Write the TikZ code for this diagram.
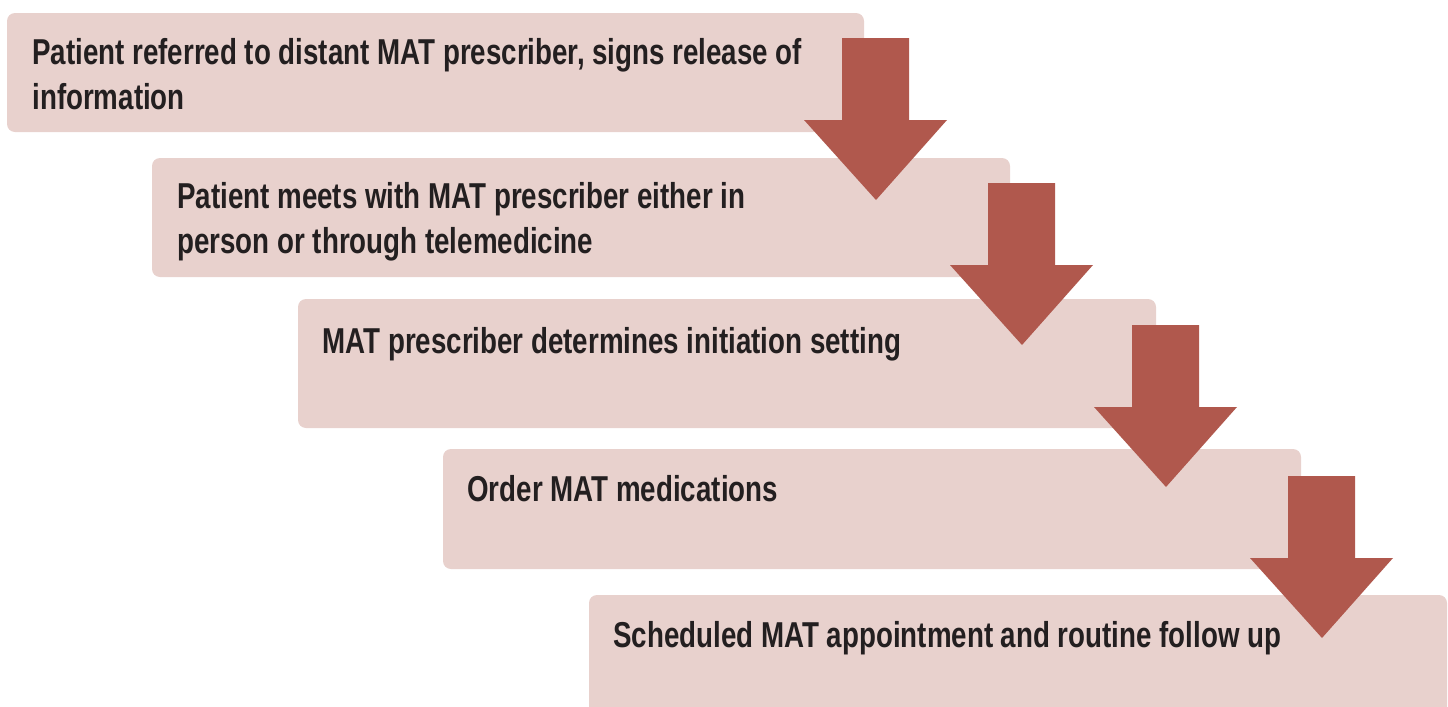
\documentclass[tikz,border=0pt]{standalone}
\usepackage{fontspec}
\newfontfamily\boxfont{Liberation Sans}[FakeStretch=0.77]
\definecolor{boxfill}{HTML}{E8D1CD}
\definecolor{arrowfill}{HTML}{B0584D}
\definecolor{txt}{HTML}{231F20}
\begin{document}
\begin{tikzpicture}[x=0.5pt,y=-0.5pt,
  stepbox/.style={fill=boxfill,draw=none,rounded corners=4pt},
  steptext/.style={anchor=base west,inner sep=0pt,align=left,text=txt,
    font={\boxfont\bfseries\fontsize{18}{22.5}\selectfont}},
  downarrow/.style={fill=arrowfill,draw=none}]
\useasboundingbox (0,0) rectangle (1448,707);
\begin{scope}
\clip (0,0) rectangle (1448,707);
% boxes
\fill[stepbox] (7,13) rectangle (864,132);
\fill[stepbox] (152,158) rectangle (1010,277);
\fill[stepbox] (298,299) rectangle (1156,428);
\fill[stepbox] (443,449) rectangle (1301,569);
\fill[stepbox] (589,595) rectangle (1447,730);
% texts
\node[steptext] (t1) at (32,109) {Patient referred to distant MAT prescriber, signs release of\\information};
\node[steptext] (t2) at (177,253) {Patient meets with MAT prescriber either in\\person or through telemedicine};
\node[steptext] (t3) at (322,353) {MAT prescriber determines initiation setting};
\node[steptext] (t4) at (467,501) {Order MAT medications};
\node[steptext] (t5) at (613,647) {Scheduled MAT appointment and routine follow up};
% arrows
\foreach \dx/\top in {0/38, 146/183, 290/325, 446/476}{
  \fill[downarrow] ({842+\dx},\top) -- ({909+\dx},\top) -- ({909+\dx},{\top+82})
    -- ({947+\dx},{\top+82}) -- ({876+\dx},{\top+162}) -- ({804+\dx},{\top+82})
    -- ({842+\dx},{\top+82}) -- cycle;
}
\end{scope}
\end{tikzpicture}
\end{document}
